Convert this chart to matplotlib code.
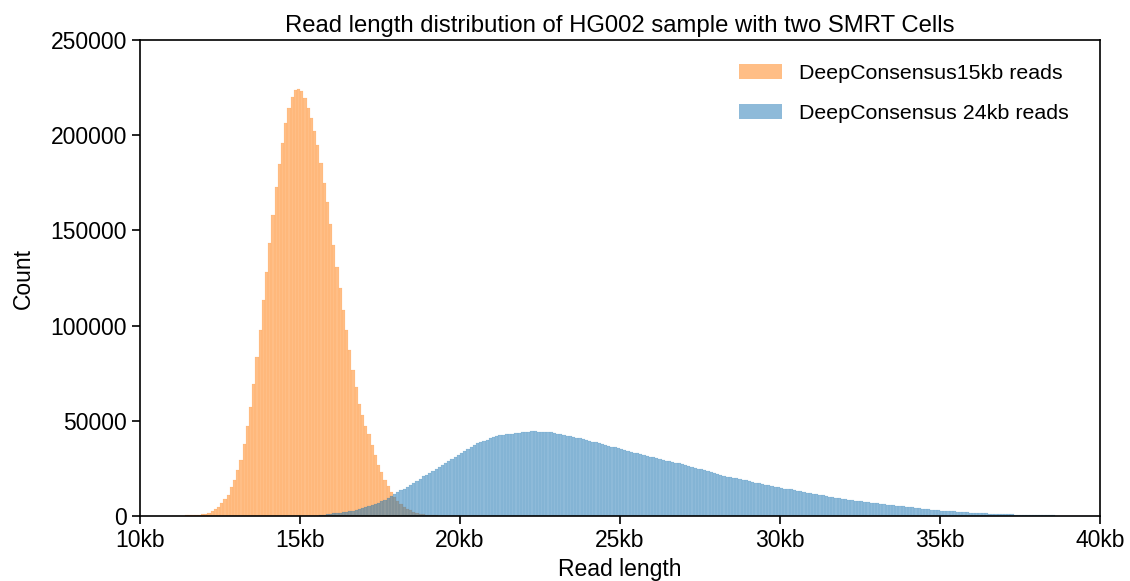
import numpy as np
import matplotlib
matplotlib.use('Agg')
import matplotlib.pyplot as plt
from matplotlib.patches import Patch

# Contagens por bin de 100 pb
bin_largura = 100

inicio_15kb = 11000
contagens_15kb = [
    60, 90, 130, 180, 240, 310, 400, 500, 620, 800,
    1050, 1750, 2600, 3700, 4900, 6700, 8800, 11000, 15100, 18900,
    23900, 29500, 37900, 47000, 57300, 69500, 83500, 97900, 113300, 128400,
    143500, 158200, 172900, 184700, 195700, 206600, 214500, 220300, 223800, 224500,
    223300, 219800, 214500, 209200, 202200, 194700, 185200, 174700, 164900, 153300,
    142400, 130700, 119800, 108400, 97500, 87000, 76800, 67700, 58900, 53000,
    47500, 43000, 37500, 32000, 27000, 23000, 19000, 15500, 12500, 10000,
    8000, 6300, 4900, 3800, 2900, 2200, 1600, 1200, 900, 650,
    480, 350, 250, 170, 110,
]

inicio_24kb = 15500
contagens_24kb = [
    150, 300, 500, 800, 1100,
    1300, 1500, 1700, 1900, 2100, 2400, 2800, 3200, 3600, 4100,
    4700, 5300, 5800, 6400, 7000, 7700, 8500, 9400, 10400, 11500,
    12600, 13500, 14400, 15200, 16000, 17100, 18300, 19600, 20800, 21700,
    22600, 23600, 24700, 25700, 26700, 27700, 28700, 29700, 30800, 31900,
    33100, 34300, 35400, 36400, 37300, 38100, 38800, 39500, 40100, 40800,
    41300, 41900, 42300, 42600, 42900, 43100, 43300, 43500, 43700, 43900,
    44100, 44300, 44400, 44400, 44300, 44200, 44100, 44000, 43900, 43600,
    43200, 42900, 42500, 42200, 41800, 41500, 41100, 40800, 40400, 40000,
    39600, 39100, 38700, 38200, 37800, 37300, 36900, 36400, 36000, 35500,
    35100, 34600, 34200, 33700, 33300, 32800, 32400, 31900, 31500, 31100,
    30700, 30300, 29900, 29500, 29000, 28600, 28300, 27900, 27600, 27200,
    26700, 26200, 25800, 25300, 24900, 24400, 23900, 23400, 22900, 22400,
    22000, 21500, 21100, 20700, 20400, 20000, 19700, 19400, 19000, 18700,
    18300, 17900, 17500, 17100, 16700, 16400, 16100, 15700, 15400, 15000,
    14700, 14400, 14200, 13900, 13500, 13200, 12900, 12600, 12300, 12000,
    11700, 11400, 11100, 10800, 10500, 10200, 9900, 9600, 9300, 9000,
    8800, 8600, 8400, 8100, 7900, 7700, 7500, 7200, 7000, 6800,
    6600, 6400, 6100, 5900, 5700, 5500, 5300, 5100, 5000, 4800,
    4700, 4500, 4300, 4100, 3900, 3700, 3500, 3300, 3100, 3000,
    2800, 2700, 2600, 2500, 2400, 2200, 2100, 2000, 1900, 1800,
    1700, 1550, 1450, 1350, 1300, 1250, 1150, 1100, 1050, 1000,
    900, 850, 800, 700, 650, 600, 560, 520, 480, 430,
    390, 350, 320, 290, 260, 240, 220, 200, 185, 170,
    155, 140, 125, 110, 100, 90, 80, 70, 60, 50,
]

rotulos = ['DeepConsensus15kb reads', 'DeepConsensus 24kb reads']
cores = ['tab:orange', 'tab:blue']
xticks = [10000, 15000, 20000, 25000, 30000, 35000, 40000]
xtick_rotulos = ['10kb', '15kb', '20kb', '25kb', '30kb', '35kb', '40kb']
yticks = [0, 50000, 100000, 150000, 200000, 250000]

plt.rcParams['font.family'] = ['Liberation Sans', 'DejaVu Sans']

fig, ax = plt.subplots(figsize=(11.3, 5.81), dpi=100)
fig.subplots_adjust(left=0.124, right=0.9735, bottom=0.112, top=0.931)

series = [(inicio_15kb, contagens_15kb), (inicio_24kb, contagens_24kb)]
for (inicio, contagens), cor in zip(series, cores):
    bins = inicio + bin_largura * np.arange(len(contagens))
    ax.bar(bins, contagens, width=bin_largura, align='edge', color=cor,
           edgecolor=cor, linewidth=0.12, alpha=0.5)

ax.set_xlim(10000, 40000)
ax.set_ylim(0, 250000)
ax.set_xticks(xticks)
ax.set_xticklabels(xtick_rotulos)
ax.set_yticks(yticks)
ax.tick_params(labelsize=16.5, length=6, width=1.2)
for s in ax.spines.values():
    s.set_linewidth(1.2)

ax.set_xlabel('Read length', fontsize=16.5)
ax.set_ylabel('Count', fontsize=16.5, labelpad=11)
ax.set_title('Read length distribution of HG002 sample with two SMRT Cells', fontsize=17.2)

handles = [Patch(facecolor=c, alpha=0.5, label=r) for c, r in zip(cores, rotulos)]
ax.legend(handles=handles, frameon=False, fontsize=15.4, loc='upper right',
          bbox_to_anchor=(0.992, 1.0), handlelength=2.0, handleheight=0.7,
          handletextpad=0.8, labelspacing=1.0, borderaxespad=0.7)

fig.savefig('out.png', dpi=100)
